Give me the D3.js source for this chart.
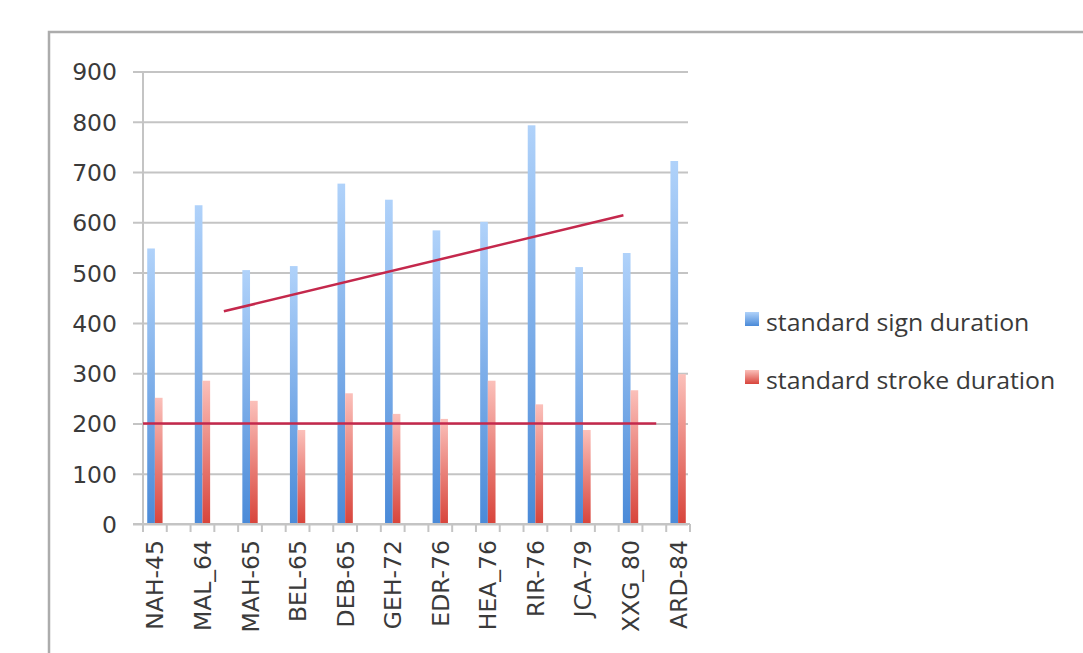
<!DOCTYPE html>
<html>
<head>
<meta charset="utf-8">
<script src="https://cdn.jsdelivr.net/npm/d3@7"></script>
<style>
  html, body { margin: 0; padding: 0; background: #fff; }
  svg { display: block; }
</style>
</head>
<body>
<svg id="chart" width="1083" height="653"></svg>
<script>
{
  const categories = ['NAH-45', 'MAL_64', 'MAH-65', 'BEL-65', 'DEB-65', 'GEH-72',
                      'EDR-76', 'HEA_76', 'RIR-76', 'JCA-79', 'XXG_80', 'ARD-84'];
  const seriesNames = ['standard sign duration', 'standard stroke duration'];
  const signDuration = [548, 634, 505, 513, 677, 645, 584, 601, 793, 511, 539, 722];
  const strokeDuration = [251, 285, 245, 187, 260, 219, 209, 285, 238, 187, 266, 298];
  const yTicks = [0, 100, 200, 300, 400, 500, 600, 700, 800, 900];

  // hand drawn lines, x in category units (0 = first category centre)
  const flatLine = [[-0.25, 200], [10.54, 200]];
  const riseLine = [[1.45, 423], [9.85, 614]];

  const GRID = '#c4c4c4';
  const TEXT = '#3a3a3a';
  const LINE_RED = '#c4284c';

  const svg = d3.select('#chart');
  const defs = svg.append('defs');

  // the sheet had an empty row between each label, so every category sits in
  // its own slot followed by an empty slot
  const slots = [];
  categories.forEach((c, i) => {
    slots.push(c);
    if (i < categories.length - 1) slots.push('gap-' + i);
  });

  const x = d3.scaleBand().domain(slots).range([143, 690]);
  const xSeries = d3.scaleBand().domain(seriesNames).range([0, x.bandwidth()]).paddingOuter(0.55);
  const xLine = d3.scaleLinear().domain([-0.25, categories.length - 0.75]).range(x.range());
  const y = d3.scaleLinear().domain([0, 900]).range([524, 71.5]);

  addGradient('grad-sign', '#b0d2fa', '#4a8ad8');
  addGradient('grad-stroke', '#fbc0ba', '#d8443b');

  // outer frame of the pasted chart
  svg.append('path')
    .attr('d', d3.line()([[1090, 32], [49, 32], [49, 660]]))
    .attr('fill', 'none')
    .attr('stroke', '#acacac')
    .attr('stroke-width', 2.5);

  // grid + y labels
  const yAxis = d3.axisLeft(y)
    .tickValues(yTicks)
    .tickSize(-(x.range()[1] - 2 - 133))
    .tickPadding(0)
    .tickFormat(d3.format('d'));

  const gy = svg.append('g')
    .attr('transform', 'translate(133,0)')
    .call(yAxis);
  gy.select('.domain').remove();
  gy.selectAll('.tick line')
    .attr('stroke', GRID)
    .attr('stroke-width', 2);
  gy.selectAll('.tick text')
    .attr('x', -16)
    .attr('dy', '0.36em')
    .attr('fill', TEXT)
    .style('font-family', 'DejaVu Sans, sans-serif')
    .style('font-size', '23.5px');

  // vertical axis line
  svg.append('line')
    .attr('x1', x.range()[0]).attr('x2', x.range()[0])
    .attr('y1', y(900)).attr('y2', y(0) + 8)
    .attr('stroke', GRID)
    .attr('stroke-width', 2);

  // tick marks under the category axis, one per slot edge
  const edges = slots.map((s) => x(s)).concat([x.range()[1]]);
  svg.append('g')
    .selectAll('line')
    .data(edges.slice(1))
    .join('line')
      .attr('x1', (d) => d).attr('x2', (d) => d)
      .attr('y1', y(0)).attr('y2', y(0) + 8)
      .attr('stroke', GRID)
      .attr('stroke-width', 2);

  // bars
  const groups = svg.append('g')
    .selectAll('g')
    .data(categories)
    .join('g')
      .attr('transform', (d) => `translate(${x(d)},0)`);

  groups.append('rect')
    .attr('x', xSeries(seriesNames[0]))
    .attr('width', xSeries.bandwidth())
    .attr('y', (d, i) => y(signDuration[i]))
    .attr('height', (d, i) => y(0) - y(signDuration[i]))
    .attr('fill', 'url(#grad-sign)');

  groups.append('rect')
    .attr('x', xSeries(seriesNames[1]))
    .attr('width', xSeries.bandwidth())
    .attr('y', (d, i) => y(strokeDuration[i]))
    .attr('height', (d, i) => y(0) - y(strokeDuration[i]))
    .attr('fill', 'url(#grad-stroke)');

  // category labels
  svg.append('g')
    .selectAll('text')
    .data(categories)
    .join('text')
      .attr('transform', (d) => `translate(${x(d) + x.bandwidth() / 2 + 8.5},${y(0) + 16}) rotate(-90)`)
      .attr('text-anchor', 'end')
      .attr('fill', TEXT)
      .style('font-family', 'DejaVu Sans, sans-serif')
      .style('font-size', '23.5px')
      .text((d) => d);

  // x axis line
  svg.append('line')
    .attr('x1', 133).attr('x2', x.range()[1])
    .attr('y1', y(0)).attr('y2', y(0))
    .attr('stroke', GRID)
    .attr('stroke-width', 2);

  // red annotation lines
  const line = d3.line()
    .x((d) => xLine(d[0]))
    .y((d) => y(d[1]));

  svg.selectAll('.annotation')
    .data([flatLine, riseLine])
    .join('path')
      .attr('class', 'annotation')
      .attr('d', line)
      .attr('fill', 'none')
      .attr('stroke', LINE_RED)
      .attr('stroke-width', 2.5);

  // legend
  const legend = svg.append('g')
    .selectAll('g')
    .data(seriesNames)
    .join('g')
      .attr('transform', (d, i) => `translate(745,${312 + i * 58})`);

  legend.append('rect')
    .attr('width', 14)
    .attr('height', 14)
    .attr('fill', (d, i) => i === 0 ? 'url(#grad-sign)' : 'url(#grad-stroke)');

  legend.append('text')
    .attr('transform', 'translate(21,19) scale(1.08,1)')
    .attr('fill', TEXT)
    .style('font-family', 'Open Sans, sans-serif')
    .style('font-size', '23px')
    .text((d) => d);

  function addGradient(id, top, bottom) {
    const g = defs.append('linearGradient')
      .attr('id', id)
      .attr('x1', 0).attr('y1', 0)
      .attr('x2', 0).attr('y2', 1);
    g.append('stop').attr('offset', '0%').attr('stop-color', top);
    g.append('stop').attr('offset', '100%').attr('stop-color', bottom);
  }
}
</script>
</body>
</html>
